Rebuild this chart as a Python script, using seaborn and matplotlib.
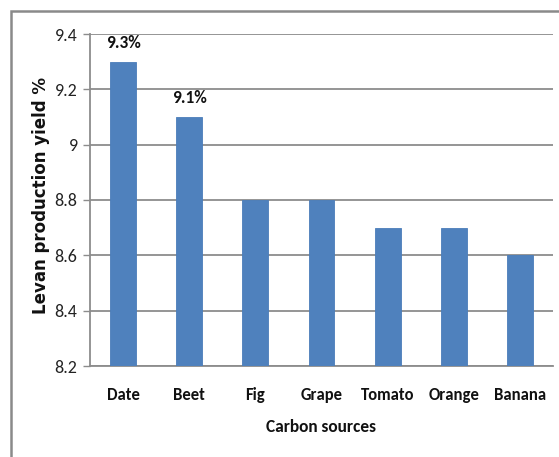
import matplotlib
matplotlib.use("Agg")
import matplotlib.pyplot as plt
from matplotlib.patches import Rectangle
import seaborn as sns
import pandas as pd

sources = ["Date", "Beet", "Fig", "Grape", "Tomato", "Orange", "Banana"]
yields = [9.3, 9.1, 8.8, 8.8, 8.7, 8.7, 8.6]
labelled = {"Date": "9.3%", "Beet": "9.1%"}
y_ticks = [8.2, 8.4, 8.6, 8.8, 9.0, 9.2, 9.4]
y_tick_labels = ["8.2", "8.4", "8.6", "8.8", "9", "9.2", "9.4"]

sns.set_style("white")
plt.rcParams["font.family"] = ["Carlito", "DejaVu Sans"]

df = pd.DataFrame({"source": sources, "yield": yields})

W, H = 559, 457
fig = plt.figure(figsize=(W / 100, H / 100), dpi=100)
ax = fig.add_axes([90 / W, 1 - 366 / H, (553 - 90) / W, (366 - 34) / H])

sns.barplot(data=df, x="source", y="yield", color="#4F81BD", saturation=1,
            width=0.39, ax=ax, zorder=3)
for p in ax.patches:
    p.set_edgecolor("#4A7DBA")
    p.set_linewidth(0.6)

ax.set_ylim(8.2, 9.4)
ax.set_yticks(y_ticks)
ax.set_yticklabels(y_tick_labels, fontsize=13, color="#222222")
ax.yaxis.grid(True, color="#8C8C8C", linewidth=1.3, zorder=0)
ax.set_axisbelow(True)
ax.tick_params(axis="y", length=5, color="#8C8C8C", width=1, pad=4, left=True)
ax.tick_params(axis="x", length=0, pad=15)
for lbl in ax.get_xticklabels():
    lbl.set_fontsize(12)
    lbl.set_fontweight("bold")
    lbl.set_color("#111111")

for side in ["top", "right"]:
    ax.spines[side].set_visible(False)
for side in ["left", "bottom"]:
    ax.spines[side].set_color("#8C8C8C")
    ax.spines[side].set_linewidth(1.3)

for i, (src, val) in enumerate(zip(sources, yields)):
    if src in labelled:
        ax.annotate(labelled[src], (i, val), xytext=(0, 19), textcoords="offset pixels",
                    ha="center", va="center", fontsize=12.5, fontweight="bold", color="#111111")

ax.set_xlabel("Carbon sources", fontsize=12.5, fontweight="bold", color="#111111", labelpad=12)
ax.set_ylabel("Levan production yield %", fontsize=12, fontweight="bold",
              color="#111111", family=["DejaVu Sans"], va="center")
ax.yaxis.set_label_coords((41 - 90) / (553 - 90), (366 - 196) / (366 - 34))

# chart frame
fig.patches.append(Rectangle((11 / W, -0.05), 1.1, 1 - 11 / H + 0.05, transform=fig.transFigure,
                             fill=False, edgecolor="#8A8A8A", linewidth=1.8))

fig.savefig("out.png", dpi=100)
